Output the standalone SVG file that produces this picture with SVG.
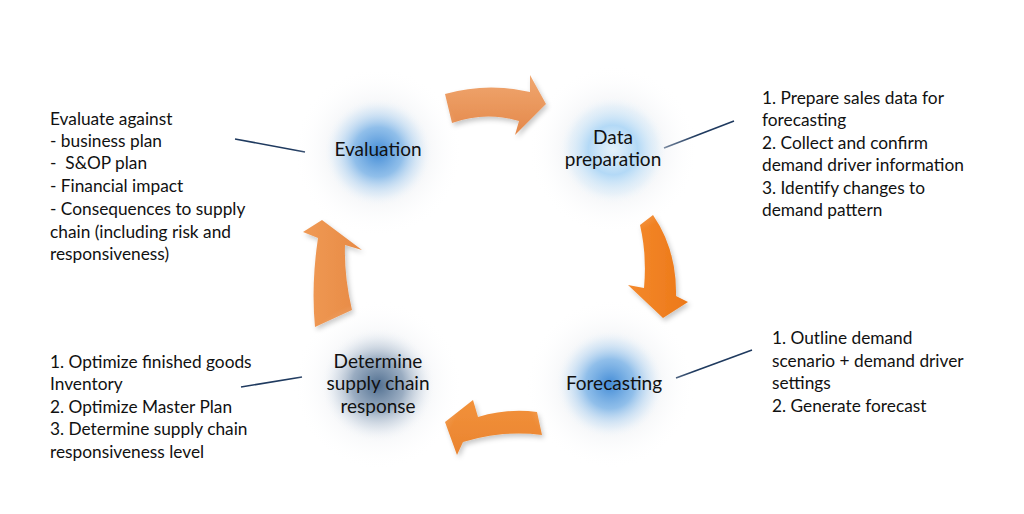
<svg xmlns="http://www.w3.org/2000/svg" width="1024" height="514" viewBox="0 0 1024 514">
<style>
text{font-family:Lato,"Open Sans","Liberation Sans",sans-serif;fill:#111;}
.lbl{font-size:19px;text-anchor:middle;}
.note{font-size:17.3px;}
.conn{stroke:#1F3A5F;stroke-width:1.6;fill:none;}
</style>
<defs>
<radialGradient id="gBlue">
<stop offset="0" stop-color="#3A86D4" stop-opacity="0.95"/>
<stop offset="0.45" stop-color="#6AAAE5" stop-opacity="0.72"/>
<stop offset="0.8" stop-color="#C9E2F7" stop-opacity="0.35"/>
<stop offset="1" stop-color="#FFFFFF" stop-opacity="0"/>
</radialGradient>
<radialGradient id="gLight">
<stop offset="0" stop-color="#D9EEFC" stop-opacity="0.6"/>
<stop offset="0.45" stop-color="#9ED0F6" stop-opacity="0.75"/>
<stop offset="0.8" stop-color="#D2EAFB" stop-opacity="0.35"/>
<stop offset="1" stop-color="#FFFFFF" stop-opacity="0"/>
</radialGradient>
<radialGradient id="gGrey">
<stop offset="0" stop-color="#47678A" stop-opacity="0.95"/>
<stop offset="0.45" stop-color="#7891AD" stop-opacity="0.72"/>
<stop offset="0.8" stop-color="#D3DDE8" stop-opacity="0.35"/>
<stop offset="1" stop-color="#FFFFFF" stop-opacity="0"/>
</radialGradient>
<radialGradient id="gHalo">
<stop offset="0.5" stop-color="#E6E9EE" stop-opacity="0.5"/>
<stop offset="1" stop-color="#FFFFFF" stop-opacity="0"/>
</radialGradient>
<linearGradient id="oTop" x1="0" y1="0" x2="0" y2="1">
<stop offset="0" stop-color="#F0A770"/><stop offset="1" stop-color="#E4884A"/>
</linearGradient>
<linearGradient id="oRight" x1="0" y1="0" x2="1" y2="0">
<stop offset="0" stop-color="#F4892C"/><stop offset="1" stop-color="#EC7818"/>
</linearGradient>
<linearGradient id="oBottom" x1="0" y1="0" x2="0" y2="1">
<stop offset="0" stop-color="#F2913A"/><stop offset="1" stop-color="#EA8430"/>
</linearGradient>
<linearGradient id="oLeft" x1="0" y1="0" x2="1" y2="0">
<stop offset="0" stop-color="#F09A55"/><stop offset="1" stop-color="#E78A45"/>
</linearGradient>
<filter id="shadow" x="-30%" y="-30%" width="160%" height="160%">
<feDropShadow dx="2" dy="3" stdDeviation="2.5" flood-color="#000" flood-opacity="0.22"/>
</filter>
</defs>
<rect width="1024" height="514" fill="#FFFFFF"/>

<g id="arrows">
<path filter="url(#shadow)" fill="url(#oTop)" d="M445,94 Q487,82 530,92 L530,75 L546,104 L515,135 L519,121 Q485,111 452,123 Z"/>
<path filter="url(#shadow)" fill="url(#oRight)" d="M640,225 L653,215 Q677,250 676,296 L688,302 L663,318 L628,285 L644,288 Q647,255 640,225 Z"/>
<path filter="url(#shadow)" fill="url(#oBottom)" d="M537,412 L542,435 Q502,430 463,442 L457,455 L445,422 L473,400 L478,417 Q508,408 537,412 Z"/>
<path filter="url(#shadow)" fill="url(#oLeft)" d="M315,327 L352,310 Q344,276 345,245 L362,250 L322,220 L303,232 L318,238 Q311,285 315,327 Z"/>
</g>

<g id="connectors">
<line class="conn" x1="235" y1="139" x2="305" y2="152"/>
<line class="conn" x1="664" y1="148" x2="734" y2="121"/>
<line class="conn" x1="676" y1="378" x2="752" y2="350"/>
<line class="conn" x1="241" y1="387" x2="302" y2="377"/>
</g>

<g id="node-evaluation">
<circle cx="378" cy="152" r="85" fill="url(#gHalo)"/>
<circle cx="378" cy="152" r="55" fill="url(#gBlue)"/>
<text class="lbl" x="378" y="156">Evaluation</text>
</g>

<g id="node-data-preparation">
<circle cx="613" cy="150" r="85" fill="url(#gHalo)"/>
<circle cx="613" cy="150" r="55" fill="url(#gLight)"/>
<text class="lbl" x="613" y="144">Data</text>
<text class="lbl" x="613" y="166">preparation</text>
</g>

<g id="node-forecasting">
<circle cx="610" cy="384" r="85" fill="url(#gHalo)"/>
<circle cx="610" cy="384" r="55" fill="url(#gBlue)"/>
<text class="lbl" x="614" y="390">Forecasting</text>
</g>

<g id="node-determine">
<circle cx="378" cy="385" r="85" fill="url(#gHalo)"/>
<circle cx="378" cy="385" r="58" fill="url(#gGrey)"/>
<text class="lbl" x="378" y="368">Determine</text>
<text class="lbl" x="378" y="390">supply chain</text>
<text class="lbl" x="378" y="413">response</text>
</g>

<g id="note-evaluation">
<text class="note" x="50" y="125">Evaluate against</text>
<text class="note" x="50" y="147">- business plan</text>
<text class="note" x="50" y="169" xml:space="preserve">-  S&amp;OP plan</text>
<text class="note" x="50" y="192">- Financial impact</text>
<text class="note" x="50" y="215">- Consequences to supply</text>
<text class="note" x="50" y="238">chain (including risk and</text>
<text class="note" x="50" y="260">responsiveness)</text>
</g>

<g id="note-data-preparation">
<text class="note" x="762" y="104">1. Prepare sales data for</text>
<text class="note" x="762" y="126">forecasting</text>
<text class="note" x="762" y="149">2. Collect and confirm</text>
<text class="note" x="762" y="171">demand driver information</text>
<text class="note" x="762" y="194">3. Identify changes to</text>
<text class="note" x="762" y="216">demand pattern</text>
</g>

<g id="note-forecasting">
<text class="note" x="772" y="344">1. Outline demand</text>
<text class="note" x="772" y="367">scenario + demand driver</text>
<text class="note" x="772" y="389">settings</text>
<text class="note" x="772" y="412">2. Generate forecast</text>
</g>

<g id="note-determine">
<text class="note" x="50" y="368">1. Optimize finished goods</text>
<text class="note" x="50" y="390">Inventory</text>
<text class="note" x="50" y="413">2. Optimize Master Plan</text>
<text class="note" x="50" y="435">3. Determine supply chain</text>
<text class="note" x="50" y="458">responsiveness level</text>
</g>
</svg>
